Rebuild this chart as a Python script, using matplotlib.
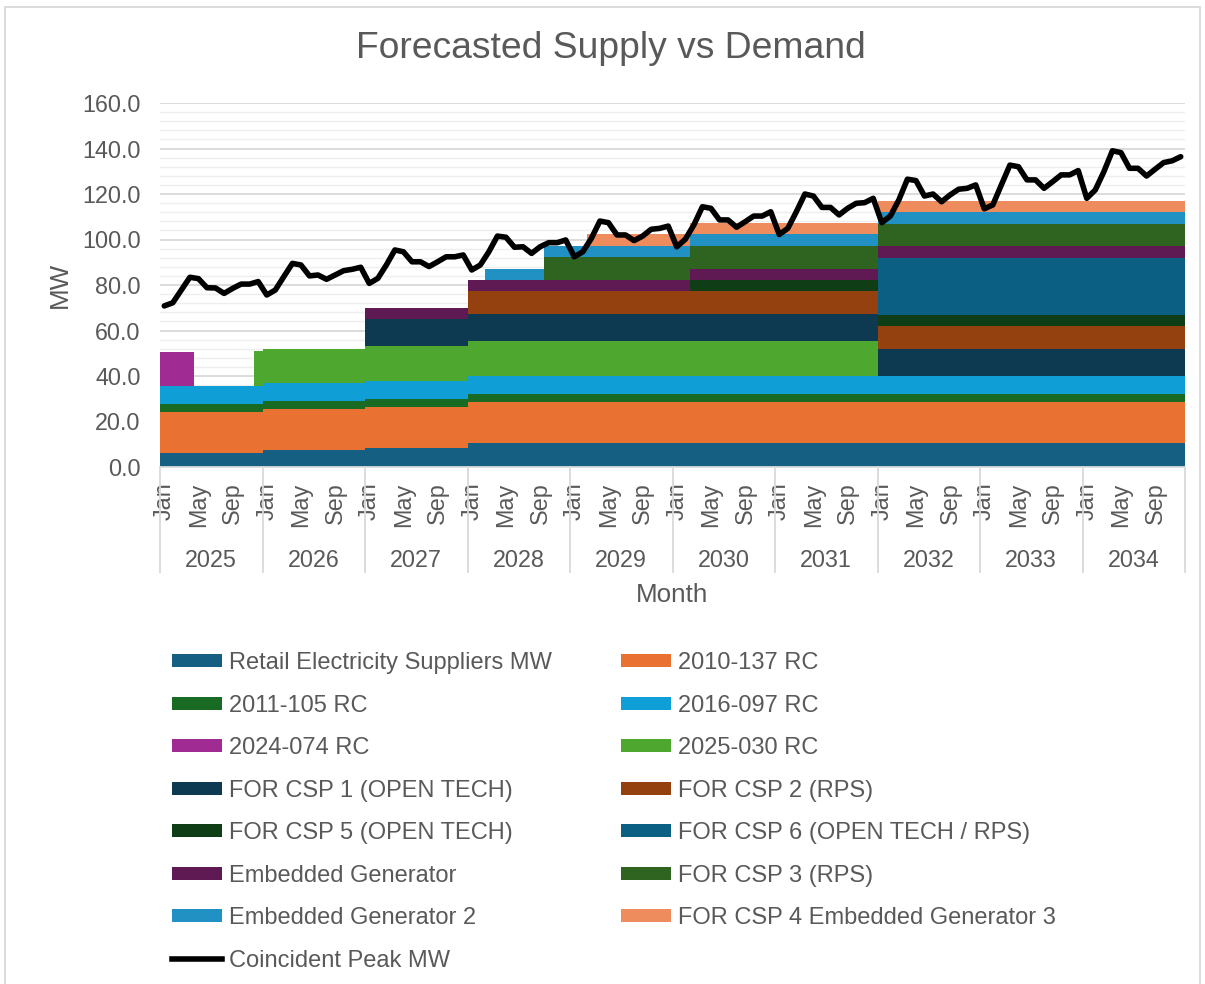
import matplotlib
matplotlib.use("Agg")
import matplotlib.pyplot as plt
import numpy as np
from matplotlib.ticker import MultipleLocator, FuncFormatter
from matplotlib.patches import Patch, Rectangle
from matplotlib.lines import Line2D
from matplotlib.transforms import blended_transform_factory

plt.rcParams['font.family'] = ['Liberation Sans', 'DejaVu Sans']

# ---- data (MW, monthly Jan 2025 .. Dec 2034) ----
years = list(range(2025, 2035))
month_names = ['Jan', 'May', 'Sep']
month_idx = [0, 4, 8]

retail = [6.3] * 12 + [7.5] * 12 + [8.5] * 12 + [10.7] * 84
rc_2010_137 = [18.0] * 120
rc_2011_105 = [3.4] * 120
rc_2016_097 = [7.9] * 120
rc_2024_074 = [15.0] * 4 + [0.0] * 116
rc_2025_030 = [0.0] * 11 + [15.2] * 73 + [0.0] * 36
csp1 = [0.0] * 24 + [12.0] * 96
csp2 = [0.0] * 36 + [10.0] * 84
csp5 = [0.0] * 62 + [5.0] * 58
csp6 = [0.0] * 84 + [25.0] * 36
emb_gen = [0.0] * 24 + [5.0] * 96
csp3 = [0.0] * 45 + [10.0] * 75
emb_gen2 = [0.0] * 38 + [5.0] * 82
csp4 = [0.0] * 50 + [5.0] * 70

peak = [
    70.8, 72.2, 77.8, 83.4, 82.8, 78.8, 78.7, 76.3, 78.5, 80.4, 80.4, 81.5,
    75.6, 77.8, 83.7, 89.5, 88.8, 84.0, 84.4, 82.5, 84.4, 86.3, 86.9, 87.8,
    80.7, 82.9, 88.8, 95.4, 94.6, 90.2, 90.2, 88.1, 90.2, 92.4, 92.4, 93.2,
    86.6, 88.8, 94.6, 101.5, 101.0, 96.6, 96.8, 93.9, 96.8, 98.6, 98.6, 99.8,
    92.4, 94.6, 100.5, 108.1, 107.4, 102.0, 102.0, 99.5, 101.5, 104.5, 104.9, 105.9,
    96.8, 100.1, 106.4, 114.4, 113.7, 108.6, 108.6, 105.4, 107.8, 110.3, 110.3, 112.2,
    102.2, 104.9, 112.2, 120.0, 119.1, 114.1, 114.1, 110.8, 113.7, 115.9, 116.2, 118.1,
    107.4, 110.3, 117.4, 126.5, 125.9, 119.1, 120.0, 116.6, 119.6, 122.1, 122.5, 124.0,
    113.5, 115.2, 124.0, 132.7, 132.0, 126.2, 126.2, 122.5, 125.4, 128.4, 128.4, 130.3,
    118.1, 121.8, 129.8, 139.0, 138.2, 131.3, 131.3, 127.9, 130.9, 133.8, 134.6, 136.4,
]

series = [retail, rc_2010_137, rc_2011_105, rc_2016_097, rc_2024_074, rc_2025_030,
          csp1, csp2, csp5, csp6, emb_gen, csp3, emb_gen2, csp4]
labels = ['Retail Electricity Suppliers MW', '2010-137 RC', '2011-105 RC', '2016-097 RC',
          '2024-074 RC', '2025-030 RC', 'FOR CSP 1 (OPEN TECH)', 'FOR CSP 2 (RPS)',
          'FOR CSP 5 (OPEN TECH)', 'FOR CSP 6 (OPEN TECH / RPS)', 'Embedded Generator',
          'FOR CSP 3 (RPS)', 'Embedded Generator 2', 'FOR CSP 4 Embedded Generator 3']
colors = ['#156082', '#E97132', '#196B24', '#0F9ED5', '#A02B93', '#4EA72E',
          '#0E3A51', '#95400F', '#0F3D15', '#0B5F83', '#5F1A54',
          '#2F6420', '#2190C3', '#EE8C5E']
peak_label = 'Coincident Peak MW'

text_col = '#595959'
grid_col = '#D9D9D9'

W, H = 1205, 984
fig = plt.figure(figsize=(W / 100, H / 100), dpi=100)
ax = fig.add_axes([160 / W, 1 - 467 / H, 1025 / W, 364 / H])

n = len(peak)
x_edges = np.arange(n + 1)
stack = [np.append(s, s[-1]) for s in series]
ax.stackplot(x_edges, *stack, colors=colors, step='post', linewidth=0)
ax.plot(np.arange(n) + 0.5, peak, color='black', lw=4.0,
        solid_joinstyle='round', solid_capstyle='round')

ax.set_xlim(0, n)
ax.set_ylim(0, 160)
ax.yaxis.set_major_locator(MultipleLocator(20))
ax.yaxis.set_minor_locator(MultipleLocator(4))
ax.yaxis.set_major_formatter(FuncFormatter(lambda v, p: f'{v:.1f}'))
ax.grid(which='major', axis='y', color=grid_col, lw=1.3)
ax.grid(which='minor', axis='y', color='#EEEEEE', lw=1.0)
ax.set_axisbelow(True)
for s in ['top', 'right', 'left']:
    ax.spines[s].set_visible(False)
ax.spines['bottom'].set_color(grid_col)
ax.spines['bottom'].set_linewidth(1.3)
ax.tick_params(axis='y', which='both', length=0, pad=14, labelsize=16.8, labelcolor=text_col)

xt = [12 * k + m + 0.5 for k in range(len(years)) for m in month_idx]
ax.set_xticks(xt)
ax.set_xticklabels(month_names * len(years), rotation=90)
ax.tick_params(axis='x', length=0, pad=11, labelsize=16.8, labelcolor=text_col)

trans = blended_transform_factory(ax.transData, ax.transAxes)
for k, yr in enumerate(years):
    ax.text(12 * k + 6, -0.258, str(yr), transform=trans, ha='center', va='center',
            fontsize=16.8, color=text_col)
for k in range(len(years) + 1):
    ax.plot([12 * k, 12 * k], [0, -0.288], transform=trans, color=grid_col,
            lw=1.3, clip_on=False)

ax.set_xlabel('Month', fontsize=18.7, color=text_col)
ax.xaxis.set_label_coords(0.5, -0.318)
ax.set_ylabel('MW', fontsize=18.7, color=text_col)
ax.yaxis.set_label_coords(-0.086, 0.5)

fig.text(611 / W, 1 - 49 / H, 'Forecasted Supply vs Demand', ha='center', va='center',
         fontsize=26.8, color=text_col)

# legend, filled row by row like the original (matplotlib fills column by column)
handles = [Patch(facecolor=c, edgecolor='none') for c in colors]
handles.append(Line2D([], [], color='black', lw=4.0))
all_labels = labels + [peak_label]
order = list(range(0, 15, 2)) + list(range(1, 15, 2))
fig.legend([handles[i] for i in order], [all_labels[i] for i in order],
           ncol=2, loc='upper left', bbox_to_anchor=(172 / W, 1 - 652 / H),
           frameon=False, fontsize=17, labelcolor=text_col,
           handlelength=2.12, handleheight=0.47, handletextpad=0.3,
           columnspacing=2.92, labelspacing=0.87, borderpad=0, borderaxespad=0)

fig.add_artist(Rectangle((5 / W, -0.01), 1195 / W, 1 - 7 / H + 0.01,
                         transform=fig.transFigure, fill=False,
                         edgecolor=grid_col, lw=1.3))

fig.savefig('out.png', dpi=100)
